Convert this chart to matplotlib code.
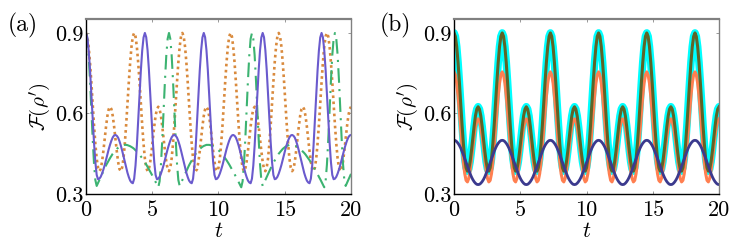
import numpy as np
import matplotlib
matplotlib.use("Agg")
import matplotlib.pyplot as plt

plt.rcParams['font.family'] = ['cmr10', 'DejaVu Serif']
plt.rcParams['mathtext.fontset'] = 'cm'
plt.rcParams['axes.formatter.use_mathtext'] = True

# time axis shared by all curves (199 samples on 0..20)
t = np.linspace(0, 20, 199)

x_ticks = [0, 5, 10, 15, 20]
x_tick_labels = ['0', '5', '10', '15', '20']
y_ticks = [0.3, 0.6, 0.9]
y_tick_labels = ['0.3', '0.6', '0.9']

# panel (a): solid blue curve
fid_a_solid = [
    0.900, 0.884, 0.836, 0.764, 0.675, 0.580, 0.491, 0.419, 0.371, 0.355, 0.357, 0.364, 0.376, 0.391, 0.408,
    0.428, 0.447, 0.467, 0.484, 0.499, 0.511, 0.518, 0.520, 0.517, 0.510, 0.497, 0.481, 0.462, 0.441, 0.419,
    0.398, 0.379, 0.363, 0.350, 0.343, 0.340, 0.357, 0.406, 0.480, 0.571, 0.669, 0.760, 0.834, 0.883,
    0.900, 0.884, 0.836, 0.764, 0.675, 0.580, 0.491, 0.419, 0.371, 0.355, 0.357, 0.364, 0.376, 0.391, 0.408,
    0.428, 0.447, 0.467, 0.484, 0.499, 0.511, 0.518, 0.520, 0.517, 0.510, 0.497, 0.481, 0.462, 0.441, 0.419,
    0.398, 0.379, 0.363, 0.350, 0.343, 0.340, 0.357, 0.406, 0.480, 0.571, 0.669, 0.760, 0.834, 0.883,
    0.900, 0.884, 0.836, 0.764, 0.675, 0.580, 0.491, 0.419, 0.371, 0.355, 0.357, 0.364, 0.376, 0.391, 0.408,
    0.428, 0.447, 0.467, 0.484, 0.499, 0.511, 0.518, 0.520, 0.517, 0.510, 0.497, 0.481, 0.462, 0.441, 0.419,
    0.398, 0.379, 0.363, 0.350, 0.343, 0.340, 0.357, 0.406, 0.480, 0.571, 0.669, 0.760, 0.834, 0.883,
    0.900, 0.884, 0.836, 0.764, 0.675, 0.580, 0.491, 0.419, 0.371, 0.355, 0.357, 0.364, 0.376, 0.391, 0.408,
    0.428, 0.447, 0.467, 0.484, 0.499, 0.511, 0.518, 0.520, 0.517, 0.510, 0.497, 0.481, 0.462, 0.441, 0.419,
    0.398, 0.379, 0.363, 0.350, 0.343, 0.340, 0.357, 0.406, 0.480, 0.571, 0.669, 0.760, 0.834, 0.883,
    0.900, 0.884, 0.836, 0.764, 0.675, 0.580, 0.491, 0.419, 0.371, 0.355, 0.357, 0.364, 0.376, 0.391, 0.408,
    0.428, 0.447, 0.467, 0.484, 0.499, 0.511, 0.518, 0.520,
]

# panel (a): green dash-dot curve
fid_a_dashdot = [
    0.900, 0.878, 0.817, 0.724, 0.615, 0.506, 0.413, 0.352, 0.330,
    0.341, 0.353, 0.364, 0.375, 0.386, 0.396, 0.407, 0.416, 0.425, 0.434, 0.442, 0.450, 0.456, 0.462, 0.468,
    0.472, 0.476, 0.479, 0.481, 0.483, 0.483,
    0.483, 0.482, 0.480, 0.478, 0.475, 0.472, 0.468, 0.463, 0.458, 0.453, 0.447, 0.440, 0.433, 0.426, 0.418,
    0.410, 0.401, 0.392, 0.383, 0.374, 0.364, 0.355, 0.345, 0.335, 0.325,
    0.347, 0.409, 0.502, 0.613, 0.722, 0.816, 0.878,
    0.900, 0.878, 0.817, 0.724, 0.615, 0.506, 0.413, 0.352, 0.330,
    0.341, 0.353, 0.364, 0.375, 0.386, 0.396, 0.407, 0.416, 0.425, 0.434, 0.442, 0.450, 0.456, 0.462, 0.468,
    0.472, 0.476, 0.479, 0.481, 0.483, 0.483,
    0.483, 0.482, 0.480, 0.478, 0.475, 0.472, 0.468, 0.463, 0.458, 0.453, 0.447, 0.440, 0.433, 0.426, 0.418,
    0.410, 0.401, 0.392, 0.383, 0.374, 0.364, 0.355, 0.345, 0.335, 0.325,
    0.347, 0.409, 0.502, 0.613, 0.722, 0.816, 0.878,
    0.900, 0.878, 0.817, 0.724, 0.615, 0.506, 0.413, 0.352, 0.330,
    0.341, 0.353, 0.364, 0.375, 0.386, 0.396, 0.407, 0.416, 0.425, 0.434, 0.442, 0.450, 0.456, 0.462, 0.468,
    0.472, 0.476, 0.479, 0.481, 0.483, 0.483,
    0.483, 0.482, 0.480, 0.478, 0.475, 0.472, 0.468, 0.463, 0.458, 0.453, 0.447, 0.440, 0.433, 0.426, 0.418,
    0.410, 0.401, 0.392, 0.383, 0.374, 0.364, 0.355, 0.345, 0.335, 0.325,
    0.347, 0.409, 0.502, 0.613, 0.722, 0.816, 0.878,
    0.900, 0.878, 0.817, 0.724, 0.615, 0.506, 0.413, 0.352, 0.330,
    0.341, 0.353, 0.364, 0.375,
]

# orange dotted curve in (a) and the cyan / dark green curve in (b) trace the same values
fid_main = [
    0.900, 0.887, 0.849, 0.790, 0.717, 0.637, 0.557, 0.487, 0.432, 0.398, 0.385, 0.393, 0.420, 0.460, 0.506, 0.552, 0.591, 0.616,
    0.625, 0.616, 0.591, 0.552, 0.506, 0.460, 0.420, 0.393, 0.385, 0.398, 0.432, 0.487, 0.557, 0.637, 0.717, 0.790, 0.849, 0.887,
    0.900, 0.887, 0.849, 0.790, 0.717, 0.637, 0.557, 0.487, 0.432, 0.398, 0.385, 0.393, 0.420, 0.460, 0.506, 0.552, 0.591, 0.616,
    0.625, 0.616, 0.591, 0.552, 0.506, 0.460, 0.420, 0.393, 0.385, 0.398, 0.432, 0.487, 0.557, 0.637, 0.717, 0.790, 0.849, 0.887,
    0.900, 0.887, 0.849, 0.790, 0.717, 0.637, 0.557, 0.487, 0.432, 0.398, 0.385, 0.393, 0.420, 0.460, 0.506, 0.552, 0.591, 0.616,
    0.625, 0.616, 0.591, 0.552, 0.506, 0.460, 0.420, 0.393, 0.385, 0.398, 0.432, 0.487, 0.557, 0.637, 0.717, 0.790, 0.849, 0.887,
    0.900, 0.887, 0.849, 0.790, 0.717, 0.637, 0.557, 0.487, 0.432, 0.398, 0.385, 0.393, 0.420, 0.460, 0.506, 0.552, 0.591, 0.616,
    0.625, 0.616, 0.591, 0.552, 0.506, 0.460, 0.420, 0.393, 0.385, 0.398, 0.432, 0.487, 0.557, 0.637, 0.717, 0.790, 0.849, 0.887,
    0.900, 0.887, 0.849, 0.790, 0.717, 0.637, 0.557, 0.487, 0.432, 0.398, 0.385, 0.393, 0.420, 0.460, 0.506, 0.552, 0.591, 0.616,
    0.625, 0.616, 0.591, 0.552, 0.506, 0.460, 0.420, 0.393, 0.385, 0.398, 0.432, 0.487, 0.557, 0.637, 0.717, 0.790, 0.849, 0.887,
    0.900, 0.887, 0.849, 0.790, 0.717, 0.637, 0.557, 0.487, 0.432, 0.398, 0.385, 0.393, 0.420, 0.460, 0.506, 0.552, 0.591, 0.616,
    0.625,
]

# panel (b): orange curve
fid_b_orange = [
    0.755, 0.744, 0.713, 0.664, 0.604, 0.538, 0.474, 0.418, 0.376, 0.351, 0.345, 0.358, 0.386, 0.426, 0.470, 0.513, 0.548, 0.572,
    0.580, 0.572, 0.548, 0.513, 0.470, 0.426, 0.386, 0.358, 0.345, 0.351, 0.376, 0.418, 0.474, 0.538, 0.604, 0.664, 0.713, 0.744,
    0.755, 0.744, 0.713, 0.664, 0.604, 0.538, 0.474, 0.418, 0.376, 0.351, 0.345, 0.358, 0.386, 0.426, 0.470, 0.513, 0.548, 0.572,
    0.580, 0.572, 0.548, 0.513, 0.470, 0.426, 0.386, 0.358, 0.345, 0.351, 0.376, 0.418, 0.474, 0.538, 0.604, 0.664, 0.713, 0.744,
    0.755, 0.744, 0.713, 0.664, 0.604, 0.538, 0.474, 0.418, 0.376, 0.351, 0.345, 0.358, 0.386, 0.426, 0.470, 0.513, 0.548, 0.572,
    0.580, 0.572, 0.548, 0.513, 0.470, 0.426, 0.386, 0.358, 0.345, 0.351, 0.376, 0.418, 0.474, 0.538, 0.604, 0.664, 0.713, 0.744,
    0.755, 0.744, 0.713, 0.664, 0.604, 0.538, 0.474, 0.418, 0.376, 0.351, 0.345, 0.358, 0.386, 0.426, 0.470, 0.513, 0.548, 0.572,
    0.580, 0.572, 0.548, 0.513, 0.470, 0.426, 0.386, 0.358, 0.345, 0.351, 0.376, 0.418, 0.474, 0.538, 0.604, 0.664, 0.713, 0.744,
    0.755, 0.744, 0.713, 0.664, 0.604, 0.538, 0.474, 0.418, 0.376, 0.351, 0.345, 0.358, 0.386, 0.426, 0.470, 0.513, 0.548, 0.572,
    0.580, 0.572, 0.548, 0.513, 0.470, 0.426, 0.386, 0.358, 0.345, 0.351, 0.376, 0.418, 0.474, 0.538, 0.604, 0.664, 0.713, 0.744,
    0.755, 0.744, 0.713, 0.664, 0.604, 0.538, 0.474, 0.418, 0.376, 0.351, 0.345, 0.358, 0.386, 0.426, 0.470, 0.513, 0.548, 0.572,
    0.580,
]

# panel (b): dark blue curve
fid_b_navy = [
    0.500, 0.499, 0.495, 0.489, 0.481, 0.471, 0.459, 0.446, 0.432, 0.418, 0.403, 0.389, 0.376, 0.364, 0.354, 0.346, 0.340, 0.336,
    0.335, 0.336, 0.340, 0.346, 0.354, 0.364, 0.376, 0.389, 0.403, 0.418, 0.432, 0.446, 0.459, 0.471, 0.481, 0.489, 0.495, 0.499,
    0.500, 0.499, 0.495, 0.489, 0.481, 0.471, 0.459, 0.446, 0.432, 0.418, 0.403, 0.389, 0.376, 0.364, 0.354, 0.346, 0.340, 0.336,
    0.335, 0.336, 0.340, 0.346, 0.354, 0.364, 0.376, 0.389, 0.403, 0.418, 0.432, 0.446, 0.459, 0.471, 0.481, 0.489, 0.495, 0.499,
    0.500, 0.499, 0.495, 0.489, 0.481, 0.471, 0.459, 0.446, 0.432, 0.418, 0.403, 0.389, 0.376, 0.364, 0.354, 0.346, 0.340, 0.336,
    0.335, 0.336, 0.340, 0.346, 0.354, 0.364, 0.376, 0.389, 0.403, 0.418, 0.432, 0.446, 0.459, 0.471, 0.481, 0.489, 0.495, 0.499,
    0.500, 0.499, 0.495, 0.489, 0.481, 0.471, 0.459, 0.446, 0.432, 0.418, 0.403, 0.389, 0.376, 0.364, 0.354, 0.346, 0.340, 0.336,
    0.335, 0.336, 0.340, 0.346, 0.354, 0.364, 0.376, 0.389, 0.403, 0.418, 0.432, 0.446, 0.459, 0.471, 0.481, 0.489, 0.495, 0.499,
    0.500, 0.499, 0.495, 0.489, 0.481, 0.471, 0.459, 0.446, 0.432, 0.418, 0.403, 0.389, 0.376, 0.364, 0.354, 0.346, 0.340, 0.336,
    0.335, 0.336, 0.340, 0.346, 0.354, 0.364, 0.376, 0.389, 0.403, 0.418, 0.432, 0.446, 0.459, 0.471, 0.481, 0.489, 0.495, 0.499,
    0.500, 0.499, 0.495, 0.489, 0.481, 0.471, 0.459, 0.446, 0.432, 0.418, 0.403, 0.389, 0.376, 0.364, 0.354, 0.346, 0.340, 0.336,
    0.335,
]

fig = plt.figure(figsize=(7.47, 2.45), dpi=100)
ax_a = fig.add_axes([0.1151, 0.2082, 0.3548, 0.7143])
ax_b = fig.add_axes([0.6078, 0.2082, 0.3548, 0.7143])

# Panel (a)
ax_a.plot(t, fid_main, color='#d98a3d', lw=1.9, linestyle=(0, (1.0, 1.3)))
ax_a.plot(t, fid_a_dashdot, color='#3cb371', lw=1.5, linestyle=(0, (7, 3, 1, 3)))
ax_a.plot(t, fid_a_solid, color='#6a5acd', lw=1.5)

# Panel (b)
ax_b.plot(t, fid_main, color='#00ffff', lw=5.5, solid_capstyle='round')
ax_b.plot(t, fid_b_orange, color='#ff7f50', lw=2.2)
ax_b.plot(t, fid_main, color='#5f6428', lw=2.2)
ax_b.plot(t, fid_b_navy, color='#3b3a8e', lw=2.0)

for ax in (ax_a, ax_b):
    ax.set_xlim(0, 20)
    ax.set_ylim(0.3, 0.952)
    ax.set_xticks(x_ticks)
    ax.set_xticklabels(x_tick_labels)
    ax.set_yticks(y_ticks)
    ax.set_yticklabels(y_tick_labels)
    ax.tick_params(direction='in', length=2.5, width=0.6, labelsize=16,
                   top=True, right=True, colors='#888888', labelcolor='black')
    ax.tick_params(axis='x', pad=5)
    ax.tick_params(axis='y', pad=2)
    ax.spines['left'].set_color('black')
    ax.spines['bottom'].set_color('black')
    ax.spines['top'].set_color('#808080')
    ax.spines['right'].set_color('#808080')
    ax.spines['top'].set_linewidth(1.6)
    ax.spines['right'].set_linewidth(1.0)
    ax.spines['left'].set_linewidth(1.0)
    ax.spines['bottom'].set_linewidth(1.0)
    ax.set_xlabel(r'$t$', fontsize=16, labelpad=1)
    ax.set_ylabel(r"$\mathcal{F}(\rho')$", fontsize=15, labelpad=1)

fig.text(0.031, 0.895, '(a)', fontsize=17, ha='center', va='center')
fig.text(0.529, 0.895, '(b)', fontsize=17, ha='center', va='center')

fig.savefig('out.png', dpi=100)
